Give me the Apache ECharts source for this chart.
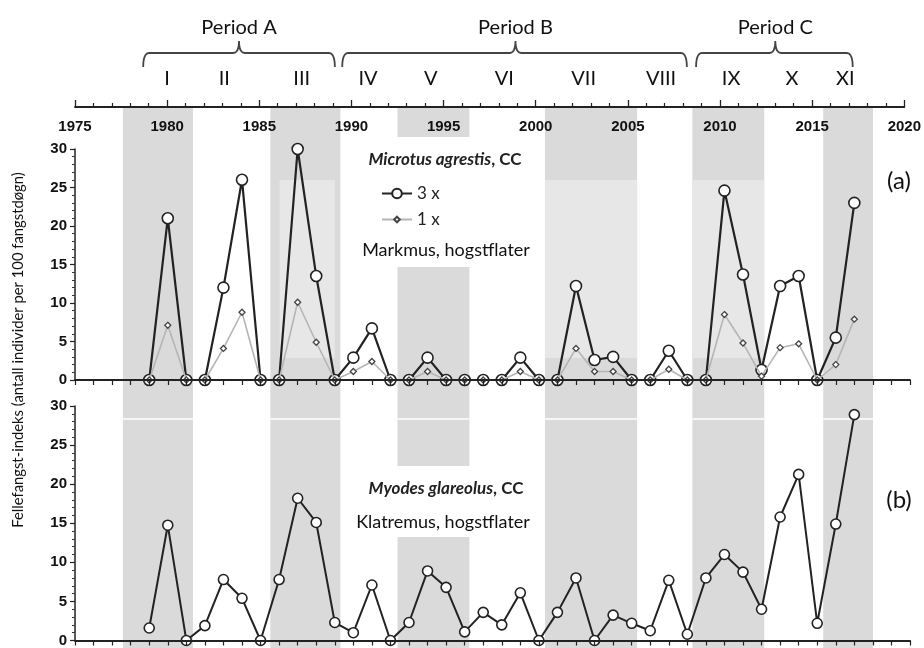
<!DOCTYPE html>
<html><head><meta charset="utf-8">
<script src="https://cdn.jsdelivr.net/npm/echarts@6/dist/echarts.min.js"></script>
<style>html,body{margin:0;padding:0;background:#fff}#c{width:924px;height:648px}</style>
</head><body><div id="c"></div>
<script>
// ---------- data ----------
const years = [1979,1980,1981,1982,1983,1984,1985,1986,1987,1988,1989,1990,1991,1992,1993,1994,1995,1996,1997,1998,1999,2000,2001,2002,2003,2004,2005,2006,2007,2008,2009,2010,2011,2012,2013,2014,2015,2016,2017];
const microtus3x = [0,21,0,0,12,26,0,0,30,13.5,0,2.9,6.7,0,0,2.9,0,0,0,0,2.9,0,0,12.2,2.6,3.0,0,0,3.8,0,0,24.6,13.7,1.3,12.2,13.5,0,5.5,23.0];
const microtus1x = [0,7.1,0,0,4.1,8.8,0,0,10.1,4.9,0,1.1,2.4,0,0,1.1,0,0,0,0,1.1,0,0,4.1,1.1,1.1,0,0,1.4,0,0,8.5,4.8,0.5,4.2,4.7,0,2.0,7.9];
const myodes = [1.6,14.75,0,1.9,7.8,5.4,0,7.8,18.2,15.1,2.3,1.0,7.1,0,2.3,8.9,6.8,1.1,3.6,2.0,6.1,0,3.6,8.0,0,3.25,2.2,1.25,7.7,0.8,8.0,11.0,8.75,4.0,15.8,21.25,2.2,14.9,28.9];
const bandStart = [1977.6,1985.6,1992.5,2000.5,2008.5,2015.6];
const bandEnd   = [1981.4,1989.4,1996.4,2005.5,2012.4,2018.3];
const yTicks = [0,5,10,15,20,25,30];
const periodNames = ['Period A','Period B','Period C'];
const periodStart = [1978.7,1989.5,2008.7];
const periodEnd   = [1989.1,2008.2,2017.2];
const periodMid   = [1983.9,1998.9,2013.0];
const numerals = ['I','II','III','IV','V','VI','VII','VIII','IX','X','XI'];
const numeralYear = [1980,1983.1,1987.3,1990.9,1994.3,1998.3,2002.6,2006.8,2010.6,2013.9,2016.8];

// ---------- layout ----------
const BAND = '#dadada', BAND_LIGHT = '#e7e7e7';
const L = 75, R = 14;
const G0_TOP = 107, G0_H = 648 - 107;
function bandPieces(i){
  if (i === 2) return [[0,30],[160,359],[430,G0_H]];
  return [[0,G0_H]];
}
const lightBands = [1,3,4];
const bandAreas = [];
bandStart.forEach((s,i)=>{
  bandPieces(i).forEach(p=>{
    bandAreas.push([{xAxis:s,yAxis:p[0],itemStyle:{color:BAND}},{xAxis:bandEnd[i],yAxis:p[1]}]);
  });
});
lightBands.forEach(i=>{
  const s = i===1 ? bandStart[i]+0.5 : bandStart[i];
  const e = i===1 ? bandEnd[i]-0.3 : bandEnd[i];
  bandAreas.push([{xAxis:s,yAxis:73,itemStyle:{color:BAND_LIGHT}},{xAxis:e,yAxis:251}]);
});
bandStart.forEach((s,i)=>{
  bandAreas.push([{xAxis:s,yAxis:311,itemStyle:{color:'#f6f6f6'}},{xAxis:bandEnd[i],yAxis:313}]);
});

const pairs = arr => years.map((y,i)=>[y,arr[i]]);
const numFont = 'Liberation Sans';
const yAxisCommon = {
  type:'value', min:0, max:30, interval:5, z:5,
  axisLine:{show:true,lineStyle:{color:'#222',width:1.5}},
  axisTick:{show:true,length:5,lineStyle:{color:'#222',width:1.2}},
  minorTick:{show:true,splitNumber:5,length:3,lineStyle:{color:'#333'}},
  splitLine:{show:false},
  axisLabel:{color:'#111',fontFamily:numFont,fontWeight:'bold',fontSize:15,margin:8}
};
const xAxisLower = {
  type:'value', min:1975, max:2020, interval:1, z:5,
  axisLine:{show:true,lineStyle:{color:'#222',width:1.8}},
  axisTick:{show:true,length:5,lineStyle:{color:'#222',width:1.2}},
  axisLabel:{show:false}, splitLine:{show:false}
};
const legendText = {fontFamily:'Lato',fontSize:17,color:'#222'};

const chart = echarts.init(document.getElementById('c'), null, {renderer:'canvas'});
const option = {
  animation:false,
  backgroundColor:'#fff',
  grid:[
    {left:L,right:R,top:G0_TOP,height:G0_H},
    {left:L,right:R,top:149,height:231},
    {left:L,right:R,top:406,height:239}
  ],
  xAxis:[
    {gridIndex:0,type:'value',position:'top',min:1975,max:2020,interval:5,z:10,
      axisLine:{show:true,lineStyle:{color:'#222',width:1.8}},
      axisTick:{show:true,length:7,lineStyle:{color:'#222',width:1.3}},
      minorTick:{show:true,splitNumber:5,length:4,lineStyle:{color:'#222',width:1.2}},
      axisLabel:{inside:true,margin:12,color:'#111',fontFamily:numFont,fontWeight:'bold',fontSize:15,formatter:v=>String(v)},
      splitLine:{show:false}},
    Object.assign({gridIndex:1},xAxisLower),
    Object.assign({gridIndex:2},xAxisLower)
  ],
  yAxis:[
    {gridIndex:0,type:'value',min:0,max:G0_H,inverse:true,show:false},
    Object.assign({gridIndex:1},yAxisCommon),
    Object.assign({gridIndex:2},yAxisCommon)
  ],
  legend:[
    {show:true, left:381, top:185, padding:0, itemWidth:30, itemHeight:12,
      data:['3 x'], textStyle:legendText},
    {show:true, left:381, top:211, padding:0, itemWidth:30, itemHeight:7,
      data:['1 x'], textStyle:legendText}
  ],
  series:[
    {type:'line',xAxisIndex:0,yAxisIndex:0,data:[],z:-1,silent:true,
      markArea:{silent:true,data:bandAreas}},
    {name:'1 x',type:'line',xAxisIndex:1,yAxisIndex:1,data:pairs(microtus1x),z:3,
      lineStyle:{color:'#b5b5b5',width:1.6},
      symbol:'diamond',symbolSize:6,
      itemStyle:{color:'#fff',borderColor:'#444',borderWidth:1.3}},
    {name:'3 x',type:'line',xAxisIndex:1,yAxisIndex:1,data:pairs(microtus3x),z:2,
      lineStyle:{color:'#222',width:2.2},
      symbol:'circle',symbolSize:11,
      itemStyle:{color:'#fff',borderColor:'#222',borderWidth:1.6}},
    {name:'b',type:'line',xAxisIndex:2,yAxisIndex:2,data:pairs(myodes),z:2,
      lineStyle:{color:'#222',width:2},
      symbol:'circle',symbolSize:10,
      itemStyle:{color:'#fff',borderColor:'#222',borderWidth:1.6}}
  ]
};
chart.setOption(option);

// ---------- annotations ----------
const px = y => chart.convertToPixel({xAxisIndex:0}, y);
function quad(p0,p1,p2,n){
  const out=[];
  for(let k=0;k<=n;k++){const t=k/n;out.push([(1-t)*(1-t)*p0[0]+2*(1-t)*t*p1[0]+t*t*p2[0],(1-t)*(1-t)*p0[1]+2*(1-t)*t*p1[1]+t*t*p2[1]]);}
  return out;
}
const g = [];
const lab = {fontFamily:'Lato',fill:'#111'};
periodNames.forEach((n,i)=>{
  const x1 = px(periodStart[i]), x2 = px(periodEnd[i]), c = px(periodMid[i]);
  const yb = 53, yd = 67, yt = 41, r = 6;
  const pts = [].concat(
    quad([x1,yd],[x1,yb],[x1+r,yb],6),
    quad([c-r,yb],[c,yb],[c,yt],6),
    quad([c,yt],[c,yb],[c+r,yb],6),
    quad([x2-r,yb],[x2,yb],[x2,yd],6));
  g.push({type:'polyline',shape:{points:pts},style:{stroke:'#444',lineWidth:1.8,fill:null}});
  g.push({type:'text',x:px(periodMid[i]),y:28,style:Object.assign({text:n,fontSize:20,align:'center',verticalAlign:'middle'},lab)});
});
numerals.forEach((n,i)=>{
  g.push({type:'text',x:px(numeralYear[i]),y:79,style:Object.assign({text:n,fontSize:20,align:'center',verticalAlign:'middle'},lab)});
});
const richCC = {i:{fontFamily:'Lato',fontStyle:'italic',fontWeight:'bold',fontSize:17,fill:'#222'},n:{fontFamily:'Lato',fontWeight:'bold',fontSize:17,fill:'#222'}};
g.push({type:'text',x:445,y:160,style:{rich:richCC,text:'{i|Microtus agrestis}{n|, CC}',align:'center',verticalAlign:'middle'}});
g.push({type:'text',x:446,y:250,style:{text:'Markmus, hogstflater',fontFamily:'Lato',fontSize:18,fill:'#111',align:'center',verticalAlign:'middle'}});
g.push({type:'text',x:446,y:489,style:{rich:richCC,text:'{i|Myodes glareolus}{n|, CC}',align:'center',verticalAlign:'middle'}});
g.push({type:'text',x:443,y:522,style:{text:'Klatremus, hogstflater',fontFamily:'Lato',fontSize:18,fill:'#111',align:'center',verticalAlign:'middle'}});
g.push({type:'text',x:899,y:181,style:{text:'(a)',fontFamily:'Lato',fontSize:24,fill:'#111',align:'center',verticalAlign:'middle'}});
g.push({type:'text',x:899,y:500,style:{text:'(b)',fontFamily:'Lato',fontSize:24,fill:'#111',align:'center',verticalAlign:'middle'}});
g.push({type:'text',x:18,y:350,rotation:Math.PI/2,style:{text:'Fellefangst-indeks (antall individer per 100 fangstdøgn)',fontFamily:'Lato',fontSize:14.8,fill:'#111',align:'center',verticalAlign:'middle'}});
chart.setOption({graphic:{elements:g}});
</script>
</body></html>
